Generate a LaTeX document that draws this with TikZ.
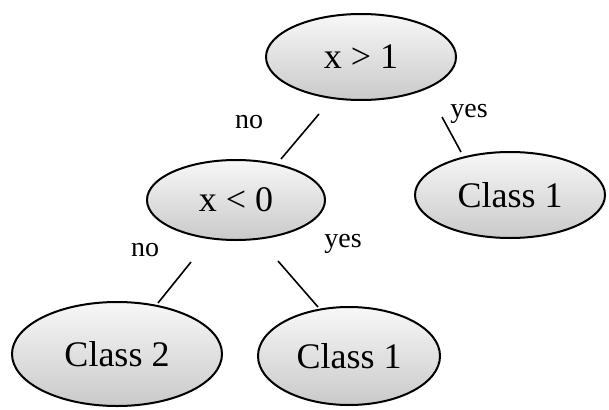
\documentclass[tikz,border=0pt]{standalone}
\usepackage{fontspec}
\setmainfont{Liberation Serif}
\usetikzlibrary{shapes.geometric}
\begin{document}
\begin{tikzpicture}[x=1pt,y=-1pt,
  dnode/.style={ellipse,draw=black,line width=2pt,inner sep=0pt,
    top color=gray!6,bottom color=gray!42,
    font=\fontsize{36}{40}\selectfont},
  lbl/.style={font=\fontsize{28}{32}\selectfont,inner sep=0pt},
  conn/.style={line width=1.6pt}]
\useasboundingbox (0,0) rectangle (609,409);
\node[dnode,minimum width=190pt,minimum height=86pt] (top) at (361,57) {x > 1};
\node[dnode,minimum width=178pt,minimum height=80pt] (mid) at (236,200) {x < 0};
\node[dnode,minimum width=190pt,minimum height=86pt] (cr) at (510,195) {Class 1};
\node[dnode,minimum width=210pt,minimum height=104pt] (c2) at (117,354) {Class 2};
\node[dnode,minimum width=182pt,minimum height=98pt] (cb) at (349,356) {Class 1};
\draw[conn] ([shift={(-42,57)}]top.center) -- ([shift={(45,-41)}]mid.center);
\draw[conn] ([shift={(81,60)}]top.center) -- ([shift={(-49,-43)}]cr.center);
\draw[conn] ([shift={(-45,62)}]mid.center) -- ([shift={(41,-51)}]c2.center);
\draw[conn] ([shift={(42,61)}]mid.center) -- ([shift={(-31,-49)}]cb.center);
\node[lbl] (l1) at (249,122) {no};
\node[lbl] (l2) at (469,114) {yes};
\node[lbl] (l3) at (145,250) {no};
\node[lbl] (l4) at (343,244) {yes};
\end{tikzpicture}
\end{document}
